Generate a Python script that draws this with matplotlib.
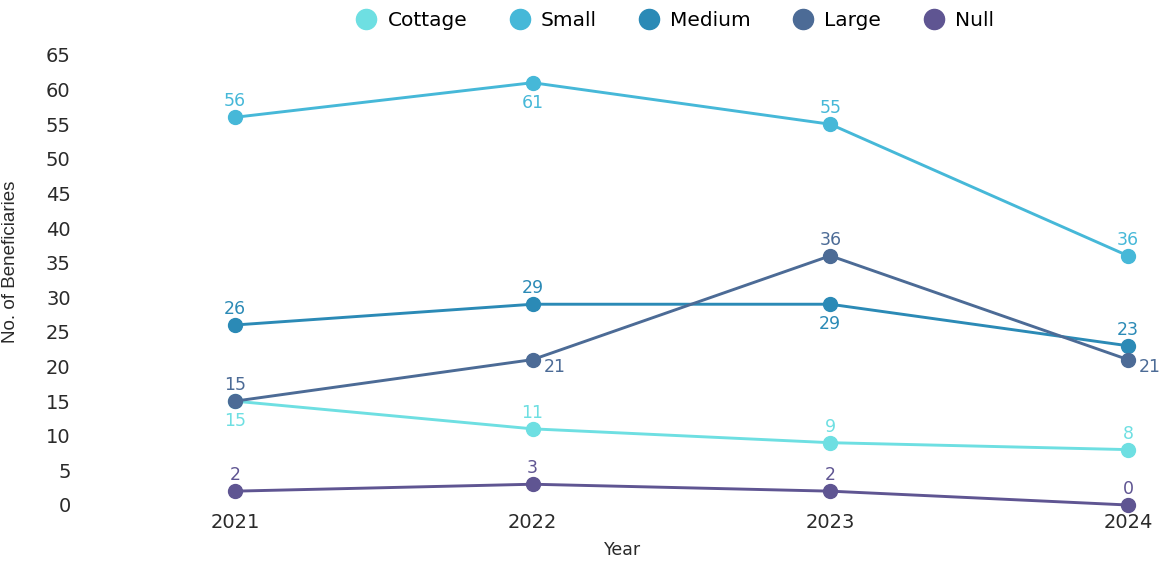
import matplotlib.pyplot as plt
from matplotlib import font_manager

years = [2021, 2022, 2023, 2024]
cottage = [15, 11, 9, 8]
small = [56, 61, 55, 36]
medium = [26, 29, 29, 23]
large = [15, 21, 36, 21]
null = [2, 3, 2, 0]

series_names = ['Cottage', 'Small', 'Medium', 'Large', 'Null']
series_values = [cottage, small, medium, large, null]
colors = ['#6EDFE2', '#46B8D8', '#2B8AB6', '#4C6B96', '#5F5592']

# where each value label sits relative to its point (pixels)
ABOVE, BELOW, RIGHT = (0, 16), (0, -20), (22, -7)
label_pos = [
    [BELOW, ABOVE, ABOVE, ABOVE],
    [ABOVE, BELOW, ABOVE, ABOVE],
    [ABOVE, ABOVE, BELOW, ABOVE],
    [ABOVE, RIGHT, ABOVE, RIGHT],
    [ABOVE, ABOVE, ABOVE, ABOVE],
]

plt.rcParams['font.family'] = ['DejaVu Sans']
names = {f.name for f in font_manager.fontManager.ttflist}
narrow = 'Liberation Sans Narrow' if 'Liberation Sans Narrow' in names else 'Liberation Sans'

fig = plt.figure(figsize=(11.65, 5.61), dpi=100)
ax = fig.add_axes([95 / 1165, 56 / 561, 1055 / 1165, 450 / 561])

for name, vals, col, pos in zip(series_names, series_values, colors, label_pos):
    ax.plot(years, vals, color=col, lw=2.1, marker='o', ms=10,
            label=name, clip_on=False, zorder=3)
    for x, y, off in zip(years, vals, pos):
        ax.annotate(str(y), (x, y), xytext=off, textcoords='offset pixels',
                    ha='center', va='center', fontsize=12.5, color=col)

ax.set_xlim(2020.53, 2024.074)
ax.set_ylim(0, 65)
ax.set_yticks(range(0, 66, 5))
ax.set_xticks(years)
ax.tick_params(length=0, labelsize=14, colors='#2a2a2a')
ax.tick_params(axis='y', pad=17.5)
ax.tick_params(axis='x', pad=6)
for s in ax.spines.values():
    s.set_visible(False)

ax.set_xlabel('Year', fontsize=12.5, color='#2a2a2a', labelpad=6)
ax.set_ylabel('No. of Beneficiaries', fontsize=13.5, color='#2a2a2a', family=narrow)
ax.yaxis.set_label_coords(-0.072, 0.54)

handles, labels = ax.get_legend_handles_labels()
leg = fig.legend(handles, labels, loc='center', bbox_to_anchor=(676 / 1165, 1 - 21 / 561),
                 ncol=5, frameon=False, fontsize=14.5, handlelength=0.8,
                 columnspacing=2.2, handletextpad=0.65, markerscale=1.45)
for h in leg.legend_handles:
    h.set_linestyle('none')

fig.savefig('out.png', dpi=100)
